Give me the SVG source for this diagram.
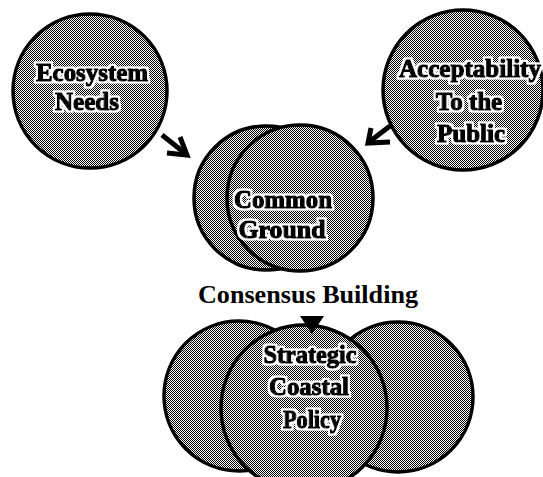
<svg xmlns="http://www.w3.org/2000/svg" width="543" height="477" viewBox="0 0 543 477">
  <defs>
    <!-- halftone grey fill -->
    <pattern id="halftone" width="2" height="2" patternUnits="userSpaceOnUse">
      <rect width="2" height="2" fill="#ffffff"/>
      <rect x="0" y="0" width="1" height="1" fill="#000000"/>
      <rect x="1" y="1" width="1" height="1" fill="#000000"/>
    </pattern>
    <!-- white outline around heavy lettering -->
    <filter id="halo" x="-10%" y="-30%" width="120%" height="160%">
      <feMorphology in="SourceAlpha" operator="dilate" radius="1.6" result="grown"/>
      <feFlood flood-color="#ffffff"/>
      <feComposite in2="grown" operator="in" result="outline"/>
      <feMerge>
        <feMergeNode in="outline"/>
        <feMergeNode in="SourceGraphic"/>
      </feMerge>
    </filter>
  </defs>
  <style>
    .disc { fill: url(#halftone); stroke: #000; stroke-width: 3.5; }
    .label { font-family: "Liberation Serif", "Times New Roman", serif; font-weight: bold; font-size: 25px; fill: #000; stroke: #000; stroke-width: 1.4; stroke-linejoin: round; text-anchor: middle; filter: url(#halo); }
    .caption { font-family: "Liberation Serif", "Times New Roman", serif; font-weight: bold; font-size: 26px; fill: #000; text-anchor: middle; }
    .arrow { fill: none; stroke: #000; stroke-width: 5; stroke-linecap: butt; stroke-linejoin: miter; }
  </style>
  <rect width="543" height="477" fill="#ffffff"/>

  <g id="ecosystem-needs">
    <circle class="disc" cx="90" cy="91" r="77"/>
    <text class="label" x="92" y="81" textLength="112" lengthAdjust="spacingAndGlyphs">Ecosystem</text>
    <text class="label" x="87" y="110">Needs</text>
  </g>

  <g id="acceptability">
    <circle class="disc" cx="463" cy="90" r="80"/>
    <text class="label" x="470" y="77" textLength="142" lengthAdjust="spacingAndGlyphs">Acceptability</text>
    <text class="label" x="469" y="110">To the</text>
    <text class="label" x="471" y="142">Public</text>
  </g>

  <g id="common-ground">
    <circle class="disc" cx="266" cy="198" r="72"/>
    <circle class="disc" cx="300" cy="198" r="73"/>
    <text class="label" x="283" y="208" textLength="98" lengthAdjust="spacingAndGlyphs">Common</text>
    <text class="label" x="282" y="238" textLength="87" lengthAdjust="spacingAndGlyphs">Ground</text>
  </g>

  <g id="consensus-building">
    <text class="caption" x="308" y="303" textLength="220" lengthAdjust="spacingAndGlyphs">Consensus Building</text>
  </g>

  <g id="strategic-coastal-policy">
    <circle class="disc" cx="239" cy="396" r="75"/>
    <circle class="disc" cx="398" cy="397" r="75"/>
    <circle class="disc" cx="304" cy="408" r="83"/>
    <text class="label" x="310" y="363" textLength="93" lengthAdjust="spacingAndGlyphs">Strategic</text>
    <text class="label" x="309" y="395" textLength="80" lengthAdjust="spacingAndGlyphs">Coastal</text>
    <text class="label" x="312" y="428" textLength="58" lengthAdjust="spacingAndGlyphs">Policy</text>
  </g>

  <g id="connectors">
    <!-- Ecosystem Needs to Common Ground -->
    <path class="arrow" d="M162,135 L186,154"/>
    <path class="arrow" d="M180,137 L187,155 L167,153"/>
    <!-- Acceptability to Common Ground -->
    <path class="arrow" d="M390,126 L369,142"/>
    <path class="arrow" d="M371,128 L368,143 L390,142"/>
    <!-- Consensus Building into Strategic Coastal Policy -->
    <polygon points="300,316 324,316 312,334" fill="#000"/>
  </g>
</svg>
